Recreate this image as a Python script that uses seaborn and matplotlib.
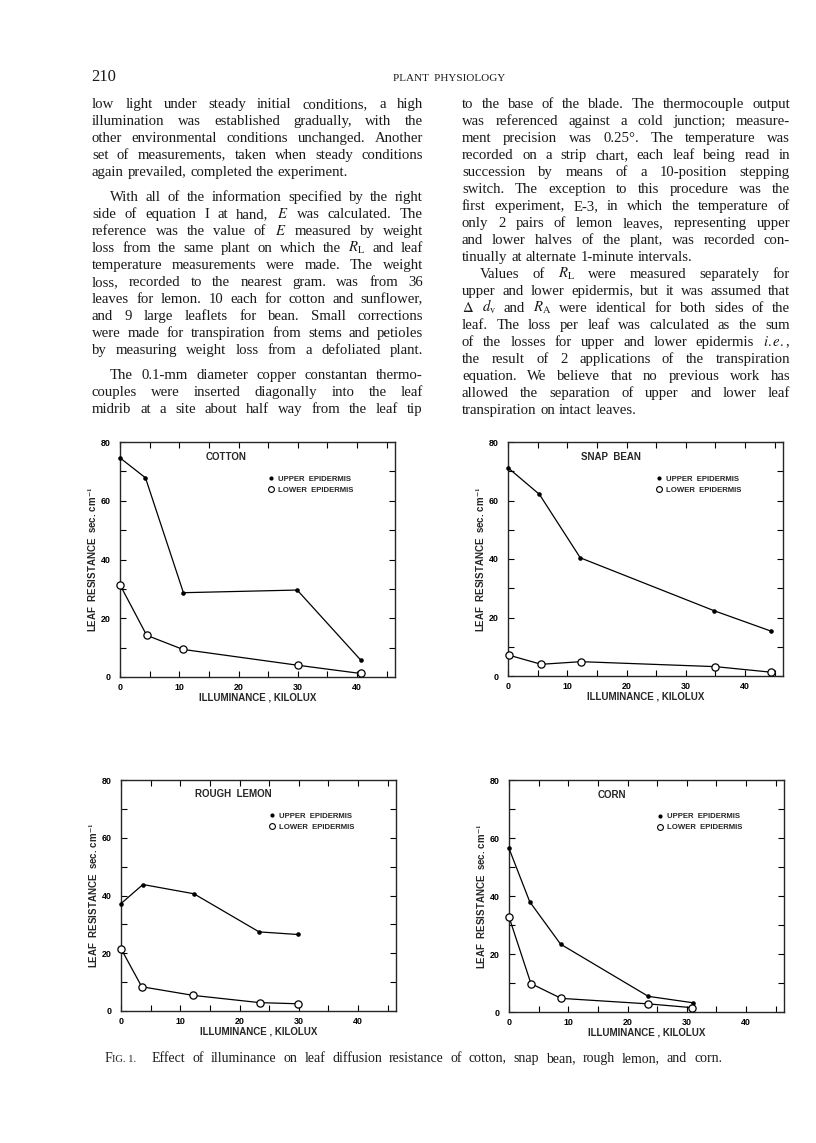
import matplotlib
matplotlib.use('Agg')
import matplotlib.pyplot as plt
import seaborn as sns
from matplotlib.font_manager import FontProperties
from matplotlib.lines import Line2D
from matplotlib.ticker import MultipleLocator

# page size in pixels
W, H = 816, 1143

# ---- data (illuminance kilolux, resistance sec/cm) ----
cotton_x_up = [0, 4.3, 10.7, 29.9, 40.6]
cotton_up = [74.6, 67.8, 28.7, 29.6, 5.8]
cotton_x_lo = [0, 4.5, 10.6, 30.0, 40.6]
cotton_lo = [31.4, 14.2, 9.4, 4.0, 1.2]

bean_x_up = [0, 5.3, 12.2, 34.8, 44.3]
bean_up = [71.2, 62.1, 40.4, 22.3, 15.4]
bean_x_lo = [0.2, 5.6, 12.3, 35.0, 44.4]
bean_lo = [7.1, 4.0, 4.9, 3.2, 1.3]

lemon_x_up = [0, 3.7, 12.3, 23.3, 29.8]
lemon_up = [37.2, 43.8, 40.6, 27.4, 26.5]
lemon_x_lo = [0, 3.5, 12.2, 23.4, 29.9]
lemon_lo = [21.6, 8.4, 5.4, 2.9, 2.5]

corn_x_up = [0, 3.5, 8.7, 23.5, 31.0]
corn_up = [56.4, 38.0, 23.4, 5.4, 3.2]
corn_x_lo = [0, 3.7, 8.8, 23.5, 30.9]
corn_lo = [32.8, 9.8, 4.7, 2.8, 1.5]

x_ticks = [0, 10, 20, 30, 40]
x_tick_labels = ['0', '10', '20', '30', '40']
y_ticks = [0, 20, 40, 60, 80]
y_tick_labels = ['0', '20', '40', '60', '80']

# ---- page text ----
left_col = [
    ['low light under steady initial conditions, a high',
     'illumination was established gradually, with the',
     'other environmental conditions unchanged.  Another',
     'set of measurements, taken when steady conditions',
     'again prevailed, completed the experiment.'],
    ['With all of the information specified by the right',
     'side of equation I at hand, $E$ was calculated.  The',
     'reference was the value of $E$ measured by weight',
     'loss from the same plant on which the $R_{\\mathrm{L}}$ and leaf',
     'temperature measurements were made.  The weight',
     'loss, recorded to the nearest gram. was from 36',
     'leaves for lemon. 10 each for cotton and sunflower,',
     'and 9 large leaflets for bean.  Small corrections',
     'were made for transpiration from stems and petioles',
     'by measuring weight loss from a defoliated plant.'],
    ['The 0.1-mm diameter copper constantan thermo-',
     'couples were inserted diagonally into the leaf',
     'midrib at a site about half way from the leaf tip'],
]
right_col = [
    ['to the base of the blade.  The thermocouple output',
     'was referenced against a cold junction; measure-',
     'ment precision was 0.25°.  The temperature was',
     'recorded on a strip chart, each leaf being read in',
     'succession by means of a 10-position stepping',
     'switch.  The exception to this procedure was the',
     'first experiment, E-3, in which the temperature of',
     'only 2 pairs of lemon leaves, representing upper',
     'and lower halves of the plant, was recorded con-',
     'tinually at alternate 1-minute intervals.'],
    ['Values of $R_{\\mathrm{L}}$ were measured separately for',
     'upper and lower epidermis, but it was assumed that',
     '$\\Delta$ $d_{\\mathrm{v}}$ and $R_{\\mathrm{A}}$ were identical for both sides of the',
     'leaf.  The loss per leaf was calculated as the sum',
     'of the losses for upper and lower epidermis $i.e.$,',
     'the result of 2 applications of the transpiration',
     'equation.  We believe that no previous work has',
     'allowed the separation of upper and lower leaf',
     'transpiration on intact leaves.'],
]
caption = 'Effect of illuminance on leaf diffusion resistance of cotton, snap bean, rough lemon, and corn.'

sns.set_style('ticks')
plt.rcParams['font.family'] = ['Liberation Sans', 'DejaVu Sans']
plt.rcParams['mathtext.fontset'] = 'stix'

fig = plt.figure(figsize=(W / 100, H / 100), dpi=100)
fig.patch.set_facecolor('white')
renderer = fig.canvas.get_renderer()

body = FontProperties(family='Liberation Serif', size=10.6)
ink = '#1a1a1a'


def word_width(word, fp):
    w, h, d = renderer.get_text_width_height_descent(word, fp, ismath='$' in word)
    return w


def put_line(line, x0, x1, y, fp, justify):
    # justified line: words placed one by one, spaces stretched to fill the column
    words = line.split()
    widths = [word_width(w, fp) for w in words]
    if justify and len(words) > 1:
        gap = (x1 - x0 - sum(widths)) / (len(words) - 1)
    else:
        gap = word_width('a a', fp) - word_width('aa', fp)
    x = x0
    for w, ww in zip(words, widths):
        fig.text(x / W, 1 - y / H, w, fontproperties=fp, ha='left', va='baseline', color=ink)
        x += ww + gap


def put_column(paras, x0, x1, y0, step, par_gap):
    y = y0
    for i, para in enumerate(paras):
        if i > 0:
            y += par_gap
        for j, line in enumerate(para):
            indent = 18 if (j == 0 and i > 0) else 0
            last = j == len(para) - 1
            just = not (last and line.endswith('.')) or line.endswith('plant.')
            put_line(line, x0 + indent, x1, y, body, just)
            y += step


# header
fig.text(91 / W, 1 - 81 / H, '210', family='Liberation Serif', fontsize=12, va='baseline', color=ink)
fig.text(449 / W, 1 - 81 / H, 'PLANT  PHYSIOLOGY', family='Liberation Serif',
         fontsize=8.0, ha='center', va='baseline', color=ink)

put_column(left_col, 92, 423, 108, 17.0, 8)
put_column(right_col, 462, 790, 108, 17.0, 0)

# caption
cap_fp = FontProperties(family='Liberation Serif', size=10.0)
fig.text(105 / W, 1 - 1062 / H, 'F', fontproperties=cap_fp, va='baseline', color='#222222')
fig.text(112 / W, 1 - 1062 / H, 'IG. 1.', family='Liberation Serif', fontsize=7.6, va='baseline',
         color='#222222')
put_line(caption, 152, 722, 1062, cap_fp, True)


def panel(l, t, r, b):
    return fig.add_axes([l / W, 1 - b / H, (r - l) / W, (b - t) / H])


panels = [
    (panel(120, 442, 395, 677), 'COTTON', 14.5, cotton_x_up, cotton_up, cotton_x_lo, cotton_lo),
    (panel(508, 442, 783, 676), 'SNAP  BEAN', 12.3, bean_x_up, bean_up, bean_x_lo, bean_lo),
    (panel(121, 780, 396, 1011), 'ROUGH  LEMON', 12.5, lemon_x_up, lemon_up, lemon_x_lo, lemon_lo),
    (panel(509, 780, 784, 1012), 'CORN', 14.9, corn_x_up, corn_up, corn_x_lo, corn_lo),
]

for ax, name, tx, xu, yu, xl, yl in panels:
    sns.lineplot(x=xu, y=yu, ax=ax, color='black', linewidth=0.9, marker='o', markersize=3.3,
                 markeredgewidth=0, clip_on=False, zorder=3)
    sns.lineplot(x=xl, y=yl, ax=ax, color='black', linewidth=0.9, marker='o', markersize=5.2,
                 markerfacecolor='white', markeredgecolor='black', markeredgewidth=0.9,
                 clip_on=False, zorder=3)
    ax.set_xlim(0, 46.4)
    ax.set_ylim(0, 80)
    ax.set_xticks(x_ticks)
    ax.set_xticklabels(x_tick_labels, fontweight='bold', fontsize=6.4)
    ax.set_yticks(y_ticks)
    ax.set_yticklabels(y_tick_labels, fontweight='bold', fontsize=6.4)
    ax.xaxis.set_minor_locator(MultipleLocator(5))
    ax.yaxis.set_minor_locator(MultipleLocator(10))
    ax.tick_params(which='both', direction='in', top=True, right=True, length=4, width=0.8,
                   colors='black')
    ax.tick_params(axis='y', pad=7)
    ax.tick_params(axis='x', pad=4)
    for s in ax.spines.values():
        s.set_linewidth(1.0)
    ax.set_facecolor('none')
    ax.set_xlabel('ILLUMINANCE , KILOLUX', fontweight='bold', fontsize=7)
    ax.set_ylabel('LEAF  RESISTANCE  sec. cm$^{\\mathbf{-1}}$', fontweight='bold', fontsize=7)
    ax.xaxis.set_label_coords(0.5, -0.065)
    ax.yaxis.set_label_coords(-0.075, 0.5)
    ax.text(tx, 75, name, fontweight='bold', fontsize=7, va='center')
    handles = [Line2D([], [], ls='none', marker='o', color='black', markersize=3, markeredgewidth=0),
               Line2D([], [], ls='none', marker='o', markerfacecolor='white', markeredgecolor='black',
                      markersize=4.2, markeredgewidth=0.8)]
    leg = ax.legend(handles, ['UPPER  EPIDERMIS', 'LOWER  EPIDERMIS'], loc='upper left',
                    bbox_to_anchor=(0.525, 0.875), frameon=False, fontsize=5.6, handlelength=0.8,
                    handletextpad=0.4, borderpad=0, labelspacing=0.45)
    for t in leg.get_texts():
        t.set_fontweight('bold')

fig.savefig('out.png', dpi=100, facecolor='white')
